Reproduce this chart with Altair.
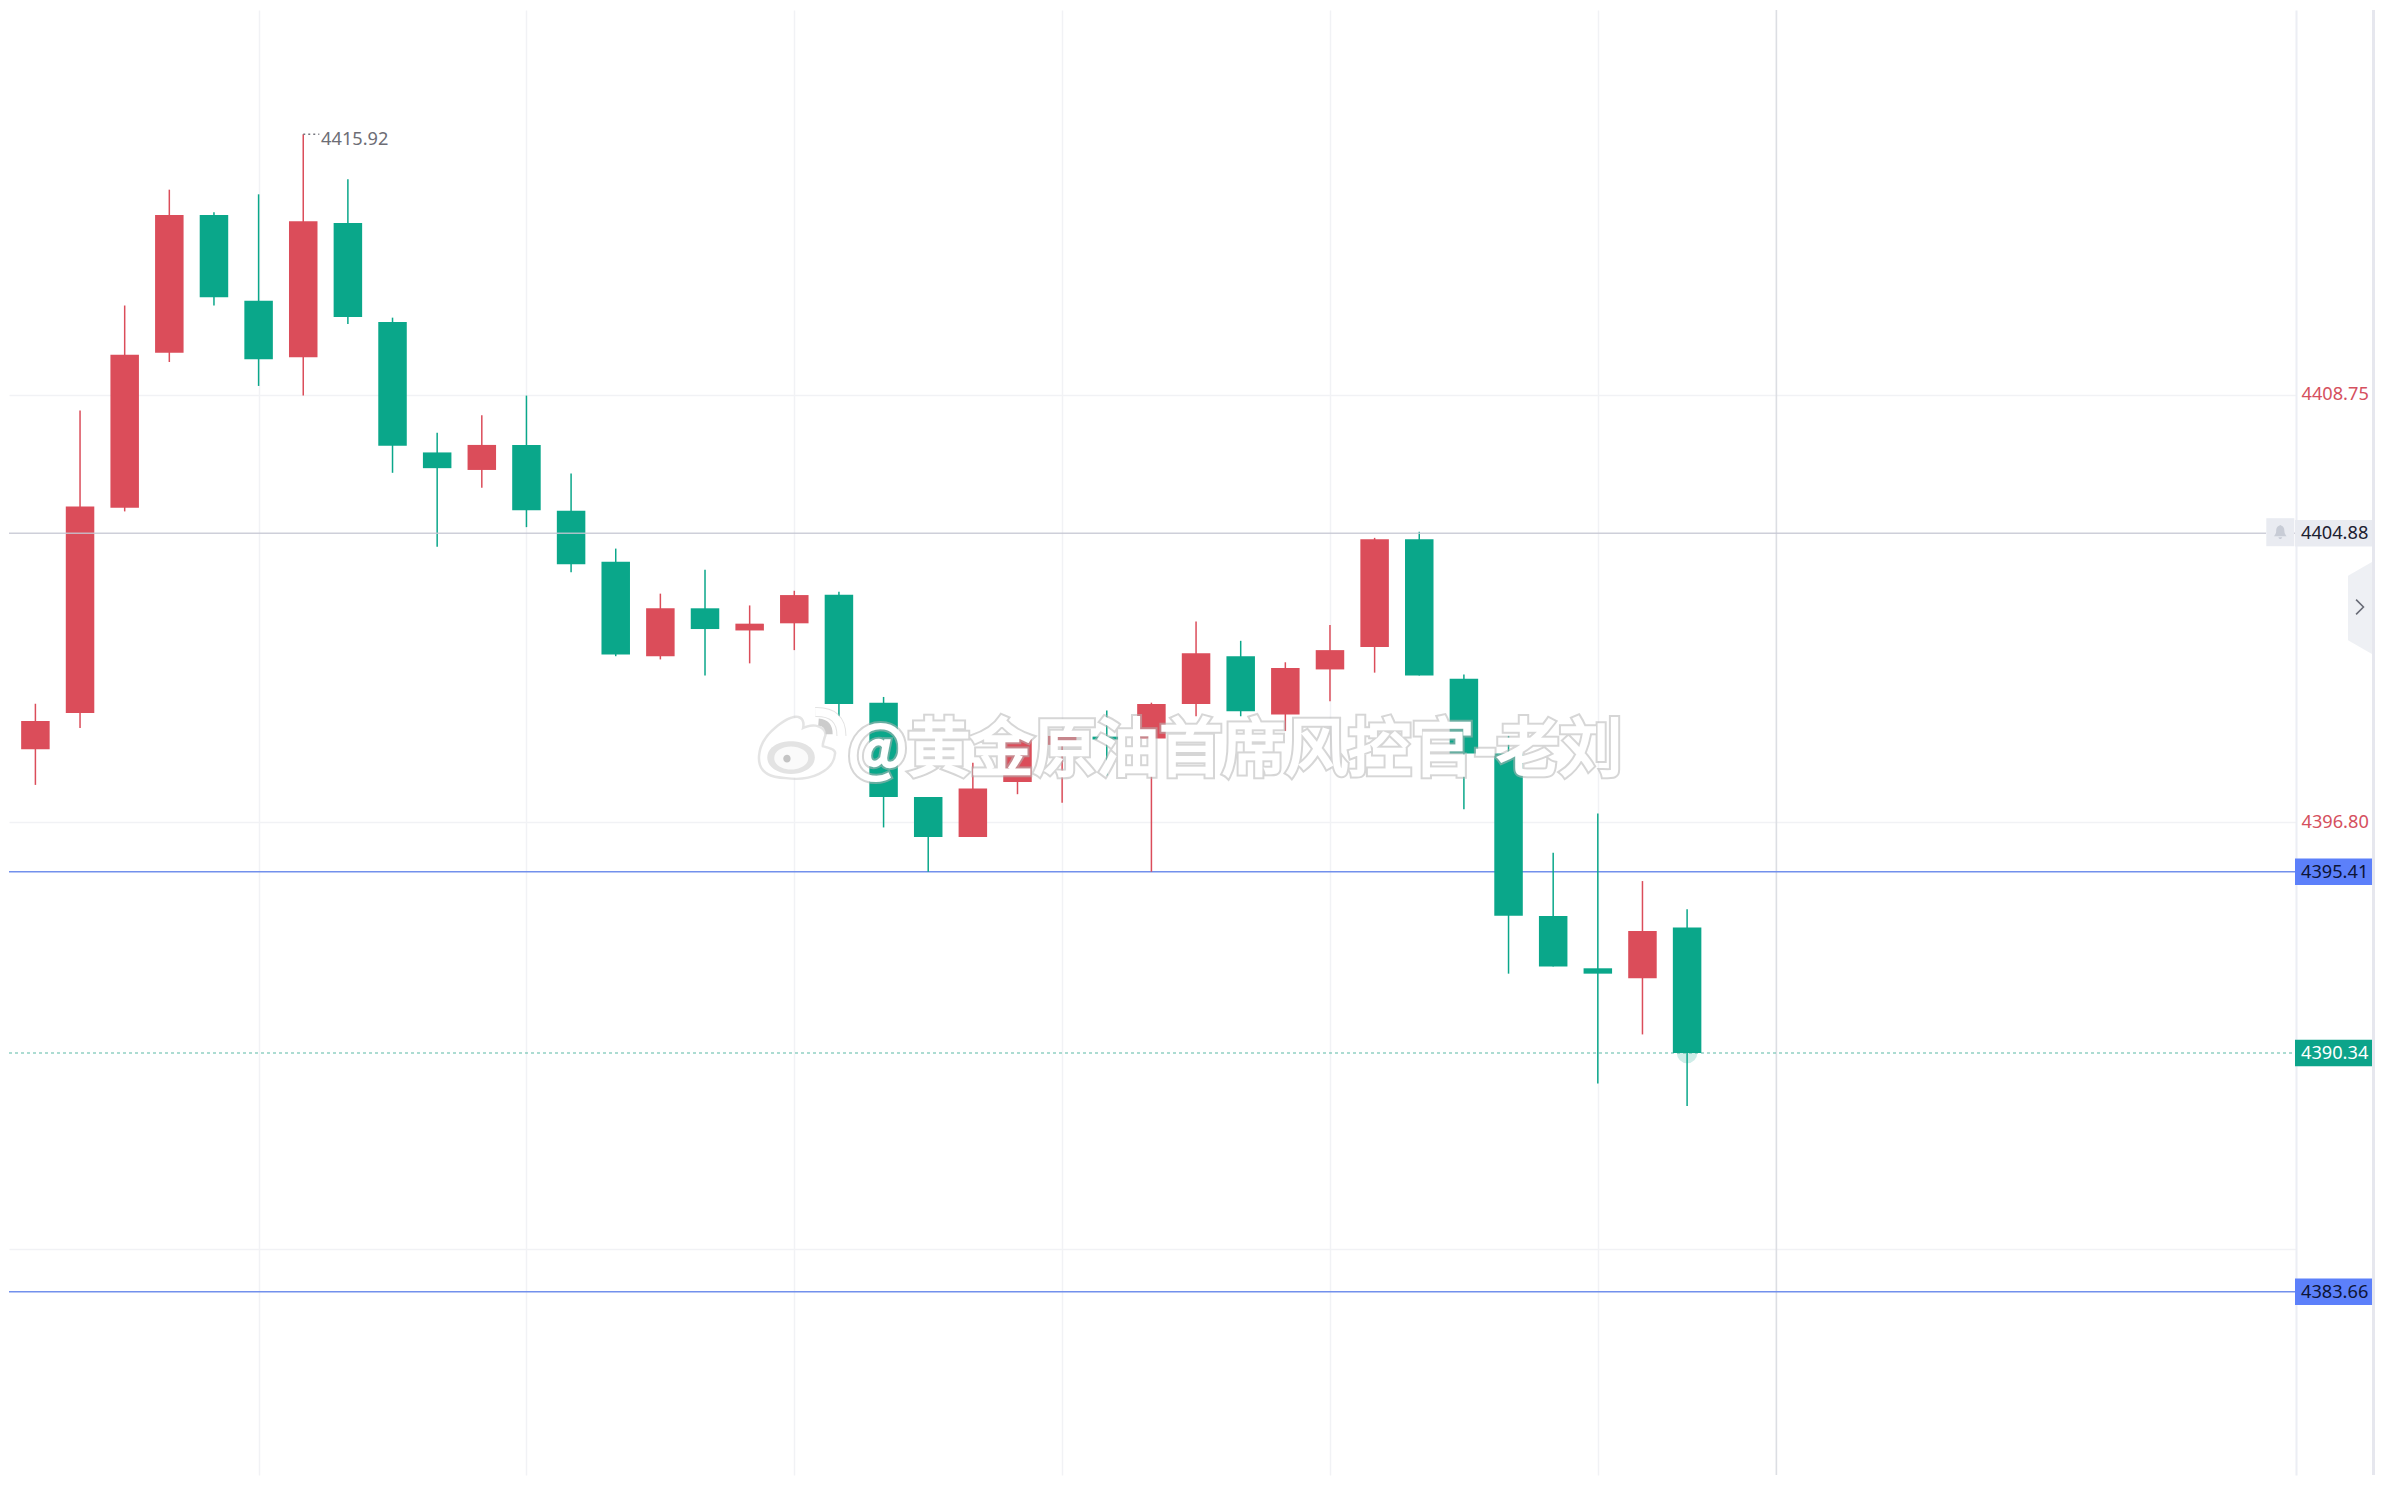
import altair as alt
import pandas as pd

# Candles: index 0 sits just off the left edge of the chart
opens  = [4402.31,4398.84,4399.85,4405.59,4409.93,4413.78,4411.38,4409.80,4413.56,4410.79,
          4407.14,4406.65,4407.35,4405.51,4404.08,4401.44,4402.78,4402.16,4402.36,4403.16,
          4400.14,4397.50,4396.38,4397.92,4398.96,4399.19,4399.14,4400.10,4401.44,4399.81,
          4401.07,4401.70,4404.71,4400.81,4398.72,4394.17,4392.71,4392.43,4393.85]
closes = [4398.80,4399.63,4405.63,4409.87,4413.78,4411.48,4409.75,4413.61,4410.93,4407.33,
          4406.70,4407.35,4405.52,4404.01,4401.49,4402.78,4402.20,4402.35,4403.15,4400.10,
          4397.50,4396.38,4397.74,4399.12,4399.21,4399.11,4400.10,4401.52,4399.90,4401.11,
          4401.61,4404.71,4400.90,4398.72,4394.18,4392.76,4392.56,4393.75,4390.34]
highs  = [4402.31,4400.11,4408.31,4411.25,4414.49,4413.86,4414.36,4416.04,4414.78,4410.91,
          4407.69,4408.18,4408.73,4406.55,4404.45,4403.19,4403.86,4402.86,4403.27,4403.24,
          4400.30,4397.50,4398.46,4399.38,4399.24,4399.92,4400.14,4402.41,4401.87,4401.27,
          4402.31,4404.75,4404.92,4400.93,4399.21,4395.94,4397.04,4395.15,4394.36]
lows   = [4398.80,4397.84,4399.43,4405.49,4409.67,4411.25,4409.00,4408.73,4410.73,4406.57,
          4404.50,4406.15,4405.05,4403.79,4401.44,4401.35,4400.90,4401.24,4401.61,4399.76,
          4396.65,4395.41,4396.38,4397.58,4397.34,4398.10,4395.41,4399.76,4399.76,4399.35,
          4400.18,4400.98,4400.90,4397.16,4392.56,4392.76,4389.49,4390.86,4388.86]

grid_x = [6, 12, 18, 24, 30, 36]
grid_y = [4408.75, 4396.80, 4384.86]
cursor_x = [40]
blue_levels = [4395.41, 4383.66]
alert_level = [4404.88]
last_price = [4390.34]
high_index = [7]
high_price = [4416.04]
high_label = ["4415.92"]
watermark = "@黄金原油首席风控官-老刘"

RED = "#db4d5a"
GREEN = "#0aa78a"
BLUE = "#5c80fa"
W, H = 2287, 1465
RIGHT = 2363
FONT = "Noto Sans"

df = pd.DataFrame({"i": range(len(opens)), "o": opens, "c": closes, "h": highs, "l": lows})
df["dir"] = ["up" if c >= o else "down" for o, c in zip(opens, closes)]

xscale = alt.Scale(domain=[0.4086, 51.64], zero=False, nice=False, padding=0)
yscale = alt.Scale(domain=[4378.536, 4419.516], zero=False, nice=False)
cscale = alt.Scale(domain=["up", "down"], range=[RED, GREEN])

def X(f="i:Q"):
    return alt.X(f, scale=xscale, title=None)

def Y(f="p:Q"):
    return alt.Y(f, scale=yscale, title=None)

def frame(**k):
    return pd.DataFrame(k)

# Axes and grid
axes = alt.Chart(frame(i=grid_x, p=[grid_y[0]] * len(grid_x))).mark_point(opacity=0).encode(
    x=alt.X("i:Q", scale=xscale, title=None, axis=alt.Axis(
        values=grid_x, labels=False, ticks=False, domain=False, grid=True,
        gridColor="#f1f2f5", gridWidth=1.5)),
    y=alt.Y("p:Q", scale=yscale, title=None, axis=alt.Axis(
        orient="right", values=grid_y, ticks=False, grid=True, gridColor="#f1f2f5", gridWidth=1.5,
        domain=True, domainColor="#eceef4", domainWidth=2,
        labelExpr="datum.value < 4390 ? '' : format(datum.value, '.2f')",
        labelColor="#d5505e", labelFont=FONT, labelFontSize=18.2, labelPadding=5)),
)

cursor = alt.Chart(frame(i=cursor_x)).mark_rule(color="#dcdee3", strokeWidth=1.6).encode(x=X())

blue_lines = alt.Chart(frame(p=blue_levels)).mark_rule(color="#7290ec", strokeWidth=1.5).encode(
    y=Y(), x=alt.value(0), x2=alt.value(W - 1))
last_line = alt.Chart(frame(p=last_price)).mark_rule(color="#5bb9a6", strokeWidth=1.2, strokeDash=[3, 3]).encode(
    y=Y(), x=alt.value(0), x2=alt.value(W - 1))
glow = alt.Chart(frame(i=[38], p=last_price)).mark_point(
    filled=True, color=GREEN, opacity=0.2, size=420).encode(x=X(), y=Y())

# Candles
wicks = alt.Chart(df).mark_rule(strokeWidth=1.5, clip=True).encode(
    x=X(), y=Y("h:Q"), y2="l:Q",
    color=alt.Color("dir:N", scale=cscale, legend=None))
bodies = alt.Chart(df).mark_bar(size=28.5, clip=True, orient="vertical").encode(
    x=X(), y=Y("o:Q"), y2="c:Q",
    color=alt.Color("dir:N", scale=cscale, legend=None))

alert_line = alt.Chart(frame(p=alert_level)).mark_rule(color="#c6c7d2", strokeWidth=1.6, opacity=0.85).encode(
    y=Y(), x=alt.value(0), x2=alt.value(2257))
alert_dash = alt.Chart(frame(p=alert_level)).mark_rule(color="#c6c7d2", strokeWidth=1.6).encode(
    y=Y(), x=alt.value(2285), x2=alt.value(W))

# Highest-price annotation
high_dots = alt.Chart(frame(i=high_index, e=[7.36], p=high_price)).mark_rule(
    color="#77777f", strokeWidth=1.4, strokeDash=[2, 3]).encode(x=X(), x2="e:Q", y=Y())
high_text = alt.Chart(frame(i=[7.4], p=high_price, t=high_label)).mark_text(
    align="left", baseline="middle", dy=6, font=FONT, fontSize=18.2, color="#6d6d75").encode(
    x=X(), y=Y(), text="t:N")

# Price tags
TAG_W = RIGHT - (W - 1)
TAG_H = 26.5 / TAG_W
TAG_PATH = f"M-1,{-TAG_H:.3f}H1V{TAG_H:.3f}H-1Z"

def tag(levels, bg, fg):
    d = frame(p=levels, t=[f"{v:.2f}" for v in levels])
    box = alt.Chart(d).mark_point(shape=TAG_PATH, size=TAG_W ** 2, filled=True, color=bg, opacity=1).encode(
        y=Y(), x=alt.value(W - 1 + TAG_W / 2))
    txt = alt.Chart(d).mark_text(align="left", baseline="middle", dy=1, font=FONT, fontSize=18.2, color=fg).encode(
        y=Y(), x=alt.value(2292), text="t:N")
    return box + txt

tags = tag(blue_levels, BLUE, "#0d1436") + tag(alert_level, "#e9ebf1", "#1c2030") + tag(last_price, "#0ca48a", "#ffffff")

# Alert bell box, bell, side handle and chevron
def shape(path, xpx, ypx, size, **kw):
    return alt.Chart(frame(a=[0])).mark_point(shape=path, size=size, **kw).encode(
        x=alt.value(xpx), y=alt.value(ypx))

bell_y = 522.2
bell_box = shape("M-1,-1H1V1H-1Z", 2271.3, bell_y, 28 ** 2, filled=True, color="#e9ebf1", opacity=1)
bell = shape("M-.1,-.9C-.1,-1 .1,-1 .1,-.9C.5,-.8 .55,-.4 .55,-.1C.55,.2 .75,.4 .85,.55H-.85C-.75,.4 -.55,.2 -.55,-.1C-.55,-.4 -.5,-.8 -.1,-.9ZM-.25,.68H.25C.2,1 -.2,1 -.25,.68Z",
             2271.3, bell_y, 15 ** 2, filled=True, color="#c8ccd6", opacity=1)
handle = shape("M.26,-1L-.26,-.7V.7L.26,1Z", RIGHT - 12, 598, 92 ** 2, filled=True, color="#eef0f4", opacity=1)
chevron = shape("M-.085,-.16L.075,0L-.085,.16", RIGHT - 12, 597, 92 ** 2, filled=False, color="#686b76",
                strokeWidth=1.6, opacity=1)
edge = alt.Chart(frame(a=[0])).mark_rule(color="#e6e7ee", strokeWidth=3).encode(x=alt.value(RIGHT + 1.5))

# Watermark
LOGO_X, LOGO_Y, LOGO_S = 789, 739, 82 ** 2
BODY = ("M-.92,.17C-.9,-.1 -.75,-.3 -.62,-.42C-.4,-.62 -.15,-.78 0,-.75C.12,-.72 .12,-.58 .08,-.46"
        "C.2,-.52 .32,-.56 .42,-.54C.6,-.5 .68,-.4 .62,-.29C.6,-.2 .56,-.12 .58,-.04"
        "C.75,0 .9,.04 .87,.12C.85,.35 .7,.48 .5,.58C.25,.7 0,.72 -.29,.68C-.6,.66 -.95,.6 -.92,.17Z")
RING = "M-.75,.21C-.75,-.06 -.45,-.19 -.17,-.19C.11,-.19 .41,-.06 .41,.21C.41,.46 .11,.61 -.17,.61C-.45,.61 -.75,.46 -.75,.21Z"
RING2 = "M-.58,.22C-.58,.04 -.37,-.06 -.17,-.06C.03,-.06 .25,.04 .25,.22C.25,.4 .03,.5 -.17,.5C-.37,.5 -.58,.4 -.58,.22Z"
EYE = "M-.36,.24C-.36,.17 -.31,.14 -.27,.14C-.22,.14 -.18,.17 -.18,.24C-.18,.3 -.22,.33 -.27,.33C-.31,.33 -.36,.3 -.36,.24Z"
ARC1 = "M.42,-.9Q1.06,-.92 1.06,-.32"
ARC2 = "M.5,-.66Q.76,-.64 .76,-.36"

logo = (
    shape(BODY, LOGO_X, LOGO_Y, LOGO_S, filled=False, color="#cfcfcf", strokeWidth=5, opacity=0.55)
    + shape(BODY, LOGO_X, LOGO_Y, LOGO_S, filled=True, color="#ffffff", opacity=1)
    + shape(RING, LOGO_X, LOGO_Y, LOGO_S, filled=True, color="#e3e3e3", opacity=1)
    + shape(RING2, LOGO_X, LOGO_Y, LOGO_S, filled=True, color="#fafafa", opacity=1)
    + shape(EYE, LOGO_X, LOGO_Y, LOGO_S, filled=True, color="#c4c4c4", opacity=1)
    + shape(ARC1, LOGO_X, LOGO_Y, LOGO_S, filled=False, color="#d2d2d2", strokeWidth=10, opacity=0.6)
    + shape(ARC1, LOGO_X, LOGO_Y, LOGO_S, filled=False, color="#ffffff", strokeWidth=8, opacity=1)
    + shape(ARC2, LOGO_X, LOGO_Y, LOGO_S, filled=False, color="#cccccc", strokeWidth=7, opacity=1)
)

wm = frame(t=[watermark])
wm_kw = dict(align="center", baseline="middle", font="Noto Sans CJK SC", fontSize=63)
wm_shadow = alt.Chart(wm).mark_text(color="#b5b5b5", stroke="#b5b5b5", strokeWidth=6.5, opacity=0.55, **wm_kw).encode(
    x=alt.value(1226), y=alt.value(740.5), text="t:N")
wm_text = alt.Chart(wm).mark_text(color="#ffffff", stroke="#ffffff", strokeWidth=2.5, **wm_kw).encode(
    x=alt.value(1226), y=alt.value(740.5), text="t:N")

chart = alt.layer(
    axes, cursor, blue_lines, last_line, glow, wicks, bodies, alert_line, alert_dash,
    high_dots, high_text, bell_box, bell, handle, chevron, tags, edge,
    logo, wm_shadow, wm_text,
).properties(width=W, height=H, padding=0, background="#ffffff").configure_view(stroke=None)

chart.save("out.html", embed_options={"renderer": "svg", "actions": False})
